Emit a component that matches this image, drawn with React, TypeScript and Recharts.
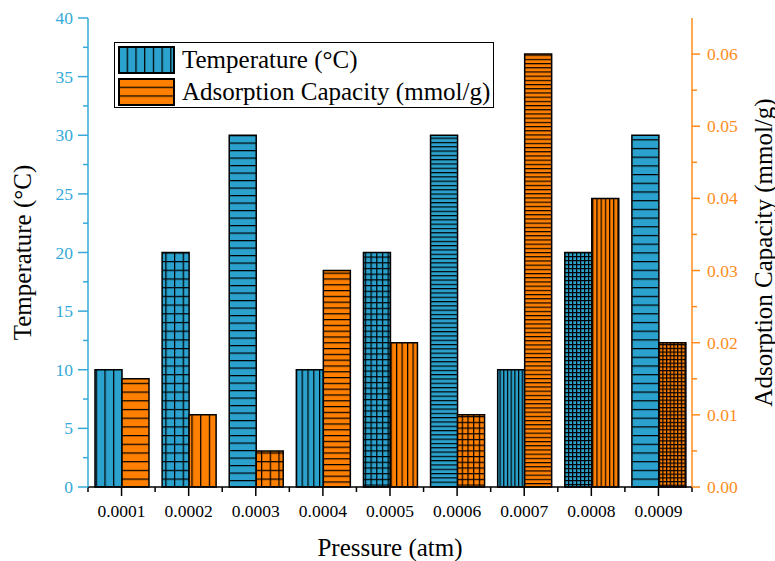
import React from 'react';
import { BarChart, Bar, Cell, XAxis, YAxis, Legend, Label } from 'recharts';

const pressures = ['0.0001', '0.0002', '0.0003', '0.0004', '0.0005', '0.0006', '0.0007', '0.0008', '0.0009'];
const temperatures = [10, 20, 30, 10, 20, 30, 10, 20, 30];
const capacities = [0.015, 0.01, 0.005, 0.03, 0.02, 0.01, 0.06, 0.04, 0.02];
const tempTicks = [0, 2.5, 5, 7.5, 10, 12.5, 15, 17.5, 20, 22.5, 25, 27.5, 30, 32.5, 35, 37.5, 40];
const capTicks = [0, 0.005, 0.01, 0.015, 0.02, 0.025, 0.03, 0.035, 0.04, 0.045, 0.05, 0.055, 0.06];

const data = pressures.map((p, i) => ({ p, temp: temperatures[i], cap: capacities[i] }));

const BLUE = '#2ba2cd';
const BLUE_AXIS = '#35aad9';
const ORANGE = '#ff8000';
const ORANGE_AXIS = '#ff8c1a';
const FONT = '"Liberation Serif", "Times New Roman", serif';

// hatch style per bar (Origin-like patterns)
type Hatch = { kind: 'h' | 'v' | 'g'; step: number };
const tempHatch: Hatch[] = [
  { kind: 'v', step: 8.7 }, { kind: 'g', step: 8.7 }, { kind: 'h', step: 7.5 },
  { kind: 'v', step: 5.8 }, { kind: 'g', step: 5.7 }, { kind: 'h', step: 4.3 },
  { kind: 'v', step: 3.7 }, { kind: 'g', step: 4 }, { kind: 'h', step: 8.7 },
];
const capHatch: Hatch[] = [
  { kind: 'h', step: 8.7 }, { kind: 'v', step: 8.7 }, { kind: 'g', step: 8.7 },
  { kind: 'h', step: 5.8 }, { kind: 'v', step: 5.5 }, { kind: 'g', step: 5.7 },
  { kind: 'h', step: 4.2 }, { kind: 'v', step: 4.2 }, { kind: 'g', step: 3.7 },
];

const HatchPattern = ({ id, color, hatch }: { id: string; color: string; hatch: Hatch }) => {
  const s = hatch.step;
  return (
    <pattern id={id} patternUnits="userSpaceOnUse" width={s} height={s}>
      <rect width={s} height={s} fill={color} />
      {hatch.kind !== 'v' && (
        <>
          <rect x={0} y={0} width={s} height={1} fill="#000" />
          <rect x={0} y={1} width={s} height={0.8} fill="rgba(0,0,0,0.3)" />
        </>
      )}
      {hatch.kind !== 'h' && (
        <>
          <rect x={0} y={0} width={1} height={s} fill="#000" />
          <rect x={1} y={0} width={0.8} height={s} fill="rgba(0,0,0,0.3)" />
        </>
      )}
    </pattern>
  );
};

const BottomTick = (props: any) => {
  const { x, y, payload, index, visibleTicksCount } = props;
  const axisY = y - 9;
  const half = payload.offset || 0;
  return (
    <g>
      <line x1={x - half} x2={x - half} y1={axisY} y2={axisY + 5} stroke="#000" strokeWidth={1.5} />
      {index === visibleTicksCount - 1 && (
        <line x1={x + half} x2={x + half} y1={axisY} y2={axisY + 5} stroke="#000" strokeWidth={1.5} />
      )}
      <text x={x} y={axisY + 30} textAnchor="middle" fontFamily={FONT} fontSize={17.5} fill="#000">
        {payload.value}
      </text>
    </g>
  );
};

const TopTick = (props: any) => {
  const { x, y, payload, index, visibleTicksCount } = props;
  const axisY = y - 8;
  const half = payload.offset || 0;
  return (
    <g>
      <line x1={x - half} x2={x - half} y1={axisY} y2={axisY + 5} stroke="#000" strokeWidth={1.5} />
      {index === visibleTicksCount - 1 && (
        <line x1={x + half} x2={x + half} y1={axisY} y2={axisY + 5} stroke="#000" strokeWidth={1.5} />
      )}
    </g>
  );
};

const LeftTick = (props: any) => {
  const { x, y, payload } = props;
  const axisX = x + 15;
  const major = payload.value % 5 === 0;
  return (
    <g>
      <line x1={axisX - (major ? 10 : 5)} x2={axisX} y1={y} y2={y} stroke={BLUE_AXIS} strokeWidth={1.5} />
      {major && (
        <text x={axisX - 15} y={y + 6} textAnchor="end" fontFamily={FONT} fontSize={17.5} fill={BLUE_AXIS}>
          {payload.value}
        </text>
      )}
    </g>
  );
};

const RightTick = (props: any) => {
  const { x, y, payload } = props;
  const axisX = x - 15;
  const major = Math.round(payload.value * 1000) % 10 === 0;
  return (
    <g>
      <line x1={axisX} x2={axisX + (major ? 8 : 5)} y1={y} y2={y} stroke={ORANGE_AXIS} strokeWidth={1.5} />
      {major && (
        <text x={axisX + 15} y={y + 6} textAnchor="start" fontFamily={FONT} fontSize={17.5} fill={ORANGE_AXIS}>
          {payload.value.toFixed(2)}
        </text>
      )}
    </g>
  );
};

const Swatch = ({ color, hatch, id }: { color: string; hatch: Hatch; id: string }) => (
  <svg width={57} height={28} style={{ display: 'block', flex: 'none' }}>
    <defs>
      <HatchPattern id={id} color={color} hatch={hatch} />
    </defs>
    <rect x={1} y={1} width={55} height={26} fill={`url(#${id})`} stroke="#000" strokeWidth={2} />
  </svg>
);

const renderLegend = () => (
  <div
    style={{
      border: '1px solid #000',
      background: '#fff',
      padding: '2px 3px 1px 3px',
      fontFamily: FONT,
      fontSize: 25,
      lineHeight: '29px',
      color: '#000',
      display: 'inline-block',
    }}
  >
    <div style={{ display: 'flex', alignItems: 'center', gap: 7, height: 29, marginBottom: 3 }}>
      <Swatch color={BLUE} hatch={tempHatch[0]} id="lg-t" />
      <span>Temperature (°C)</span>
    </div>
    <div style={{ display: 'flex', alignItems: 'center', gap: 7, height: 29 }}>
      <Swatch color={ORANGE} hatch={capHatch[0]} id="lg-a" />
      <span>Adsorption Capacity (mmol/g)</span>
    </div>
  </div>
);

export default function App() {
  return (
    <div>
      <style>{'body{margin:0}'}</style>
      <BarChart
        width={775}
        height={561}
        data={data}
        margin={{ top: 18, right: 0, bottom: 0, left: 0 }}
        barGap={0}
      >
        <defs>
          {tempHatch.map((h, i) => (
            <HatchPattern key={`t-${i}`} id={`t-${i}`} color={BLUE} hatch={h} />
          ))}
          {capHatch.map((h, i) => (
            <HatchPattern key={`a-${i}`} id={`a-${i}`} color={ORANGE} hatch={h} />
          ))}
        </defs>
        <XAxis
          dataKey="p"
          height={74}
          interval={0}
          tickSize={9}
          tickMargin={0}
          axisLine={{ stroke: '#000', strokeWidth: 1.5 }}
          tickLine={{ stroke: '#000', strokeWidth: 1.5 }}
          tick={<BottomTick />}
        >
          <Label
            content={(p: any) => (
              <text
                x={p.viewBox.x + p.viewBox.width / 2}
                y={p.viewBox.y + 60}
                textAnchor="middle"
                dominantBaseline="central"
                fontFamily={FONT}
                fontSize={25}
                fill="#000"
              >
                Pressure (atm)
              </text>
            )}
          />
        </XAxis>
        <XAxis
          xAxisId="top"
          dataKey="p"
          orientation="top"
          mirror
          height={0}
          interval={0}
          tickSize={8}
          tickMargin={0}
          axisLine={{ stroke: '#000', strokeWidth: 1.5 }}
          tickLine={{ stroke: '#000', strokeWidth: 1.5 }}
          tick={<TopTick />}
        />
        <YAxis
          yAxisId="t"
          width={88}
          domain={[0, 40]}
          ticks={tempTicks}
          interval={0}
          tickSize={10}
          tickMargin={5}
          axisLine={{ stroke: BLUE_AXIS, strokeWidth: 1.5 }}
          tickLine={false}
          tick={<LeftTick />}
        >
          <Label
            content={(p: any) => {
              const cx = p.viewBox.x + 22;
              const cy = p.viewBox.y + p.viewBox.height / 2;
              return (
                <text
                  x={cx}
                  y={cy}
                  transform={`rotate(-90, ${cx}, ${cy})`}
                  textAnchor="middle"
                  dominantBaseline="central"
                  fontFamily={FONT}
                  fontSize={25}
                  fill="#000"
                >
                  Temperature (°C)
                </text>
              );
            }}
          />
        </YAxis>
        <YAxis
          yAxisId="a"
          orientation="right"
          width={83}
          domain={[0, 0.065]}
          ticks={capTicks}
          interval={0}
          tickSize={8}
          tickMargin={7}
          axisLine={{ stroke: ORANGE_AXIS, strokeWidth: 1.5 }}
          tickLine={false}
          tick={<RightTick />}
        >
          <Label
            content={(p: any) => {
              const cx = p.viewBox.x + 71;
              const cy = p.viewBox.y + p.viewBox.height / 2;
              return (
                <text
                  x={cx}
                  y={cy}
                  transform={`rotate(-90, ${cx}, ${cy})`}
                  textAnchor="middle"
                  dominantBaseline="central"
                  fontFamily={FONT}
                  fontSize={25}
                  fill="#000"
                >
                  Adsorption Capacity (mmol/g)
                </text>
              );
            }}
          />
        </YAxis>
        <Legend
          layout="horizontal"
          verticalAlign="middle"
          align="center"
          content={renderLegend}
          wrapperStyle={{ left: 114, top: 42, width: 'auto' }}
        />
        <Bar dataKey="temp" yAxisId="t" barSize={27} stroke="#000" strokeWidth={1.5} isAnimationActive={false}>
          {data.map((_, i) => (
            <Cell key={`ct-${i}`} fill={`url(#t-${i})`} />
          ))}
        </Bar>
        <Bar dataKey="cap" yAxisId="a" barSize={27} stroke="#000" strokeWidth={1.5} isAnimationActive={false}>
          {data.map((_, i) => (
            <Cell key={`ca-${i}`} fill={`url(#a-${i})`} />
          ))}
        </Bar>
      </BarChart>
    </div>
  );
}
